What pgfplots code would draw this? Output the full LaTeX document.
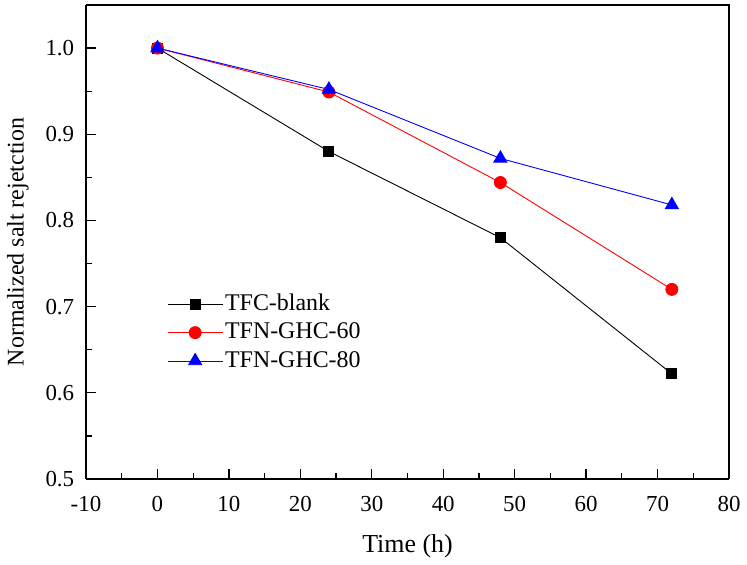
\documentclass[border=0pt]{standalone}
\usepackage{fontspec}
\setmainfont{Liberation Serif}
\usepackage{pgfplots}
\pgfplotsset{compat=1.18}
\usetikzlibrary{calc}
\begin{document}
\fontsize{23}{27}\selectfont
\begin{tikzpicture}
\begin{axis}[
  name=ax,
  scale only axis,
  width=643bp, height=474bp,
  xmin=-10, xmax=80, ymin=0.5, ymax=1.05,
  xtick={-10,0,...,80},
  ytick={0.5,0.6,...,1.0},
  minor x tick num=1, minor y tick num=1,
  tick align=inside,
  axis x line*=bottom, axis y line*=left,
  axis line style={line width=2bp},
  every tick/.style={black, line width=1.3bp},
  major tick length=10bp, minor tick length=6bp,
  /pgf/number format/assume math mode=true,
  xticklabel style={font=\fontsize{23}{27}\selectfont, yshift=-9bp},
  yticklabel style={font=\fontsize{23}{27}\selectfont, xshift=-4bp, /pgf/number format/fixed, /pgf/number format/fixed zerofill, /pgf/number format/precision=1},
  xlabel={Time (h)}, ylabel={Normalized salt rejetction},
  xlabel style={font=\fontsize{26}{30}\selectfont, at={(axis description cs:0.5,-0.141)}, anchor=center},
  ylabel style={font=\fontsize{24}{28}\selectfont, at={(axis description cs:-0.1058,0.5)}, anchor=center},
  legend style={draw=none, fill=none, at={(0.126,0.395)}, anchor=north west, font=\fontsize{24}{28}\selectfont, row sep=5bp, inner sep=0pt},
  legend cell align=left,
  legend image code/.code={\draw[mark repeat=2,mark phase=2] plot coordinates {(0bp,0bp) (27.5bp,0bp) (55bp,0bp)};},
  clip=false,
]
\draw[line width=2bp] (rel axis cs:0,1) -- (rel axis cs:1,1) -- (rel axis cs:1,0);
\addplot[black, line width=0.9bp, mark=square*, mark size=5bp, mark options={fill=black}] coordinates {(0,1.0) (24,0.880) (48,0.780) (72,0.622)};
\addlegendentry{TFC-blank}
\addplot[red, line width=0.9bp, mark=*, mark size=6bp, mark options={fill=red}] coordinates {(0,1.0) (24,0.949) (48,0.844) (72,0.720)};
\addlegendentry{TFN-GHC-60}
\addplot[blue, line width=0.9bp, mark=triangle*, mark size=7.5bp, mark options={fill=blue}] coordinates {(0,1.0) (24,0.952) (48,0.872) (72,0.818)};
\addlegendentry{TFN-GHC-80}
\end{axis}
\pgfresetboundingbox
\path ($(ax.south west)+(-86bp,-86bp)$) rectangle ($(ax.north east)+(18bp,5bp)$);
\end{tikzpicture}
\end{document}
